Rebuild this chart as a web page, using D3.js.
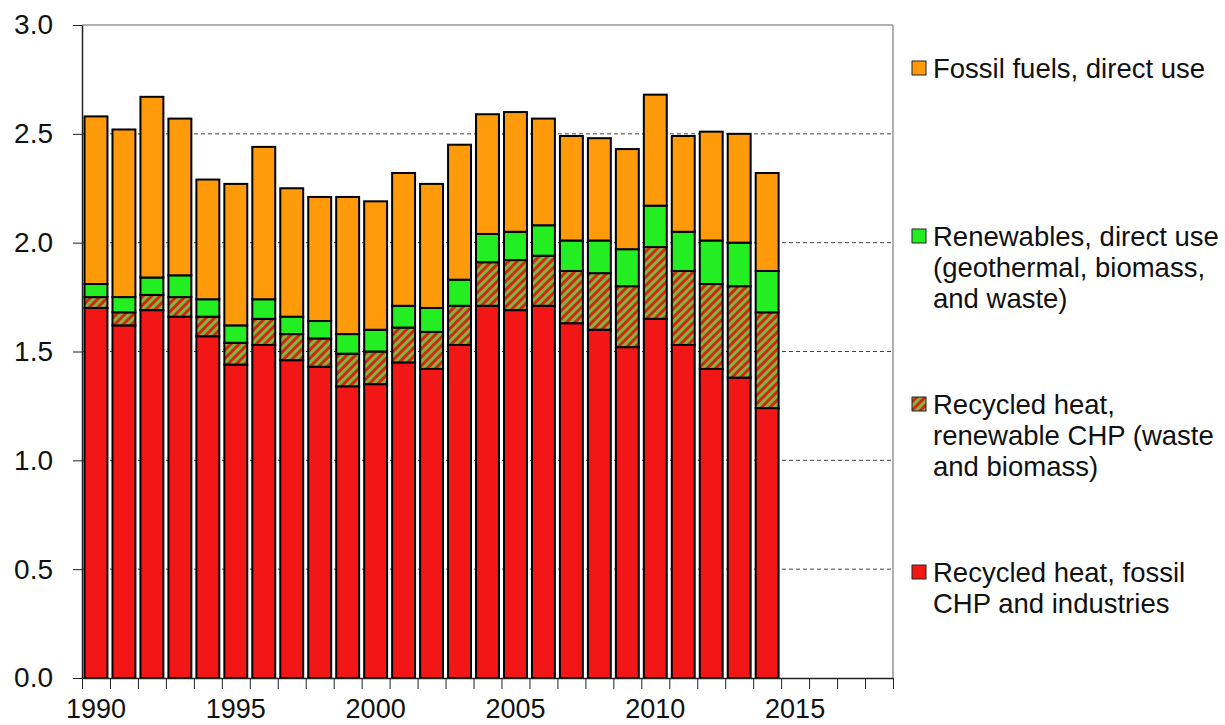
<!DOCTYPE html>
<html>
<head>
<meta charset="utf-8">
<script src="https://cdnjs.cloudflare.com/ajax/libs/d3/7.8.5/d3.min.js"></script>
<style>
    body { margin: 0; background: #fff; }
    text { font-family: "Liberation Sans", Arial, sans-serif; fill: #111; }
    .axis path, .axis line { stroke: #222; }
</style>
</head>
<body>
<svg id="chart" width="1225" height="725"></svg>
<script>
// years with data, and the empty years the axis still runs through
var years = [1990, 1991, 1992, 1993, 1994, 1995, 1996, 1997, 1998, 1999,
    2000, 2001, 2002, 2003, 2004, 2005, 2006, 2007, 2008, 2009,
    2010, 2011, 2012, 2013, 2014];
var axisYears = years.concat([2015, 2016, 2017, 2018]);
var yTicks = [0, 0.5, 1.0, 1.5, 2.0, 2.5, 3.0];

// stacked from the bottom up
var fossilCHP = [1.70, 1.62, 1.69, 1.66, 1.57, 1.44, 1.53, 1.46, 1.43, 1.34,
    1.35, 1.45, 1.42, 1.53, 1.71, 1.69, 1.71, 1.63, 1.60, 1.52,
    1.65, 1.53, 1.42, 1.38, 1.24];
var renewableCHP = [0.05, 0.06, 0.07, 0.09, 0.09, 0.10, 0.12, 0.12, 0.13, 0.15,
    0.15, 0.16, 0.17, 0.18, 0.20, 0.23, 0.23, 0.24, 0.26, 0.28,
    0.33, 0.34, 0.39, 0.42, 0.44];
var renewablesDirect = [0.06, 0.07, 0.08, 0.10, 0.08, 0.08, 0.09, 0.08, 0.08, 0.09,
    0.10, 0.10, 0.11, 0.12, 0.13, 0.13, 0.14, 0.14, 0.15, 0.17,
    0.19, 0.18, 0.20, 0.20, 0.19];
var fossilDirect = [0.77, 0.77, 0.83, 0.72, 0.55, 0.65, 0.70, 0.59, 0.57, 0.63,
    0.59, 0.61, 0.57, 0.62, 0.55, 0.55, 0.49, 0.48, 0.47, 0.46,
    0.51, 0.44, 0.50, 0.50, 0.45];

var seriesKeys = ["fossilCHP", "renewableCHP", "renewablesDirect", "fossilDirect"];
var seriesFill = {
    fossilCHP: "#f21616",
    renewableCHP: "url(#hatch)",
    renewablesDirect: "#22ee22",
    fossilDirect: "#ff9a0a"
};
// legend reads top to bottom
var legendItems = [
    { key: "fossilDirect", lines: ["Fossil fuels, direct use"] },
    { key: "renewablesDirect", lines: ["Renewables, direct use", "(geothermal, biomass,", "and waste)"] },
    { key: "renewableCHP", lines: ["Recycled heat,", "renewable CHP (waste", "and biomass)"] },
    { key: "fossilCHP", lines: ["Recycled heat, fossil", "CHP and industries"] }
];

var rows = years.map(function(yr, i) {
    return {
        year: yr,
        fossilCHP: fossilCHP[i],
        renewableCHP: renewableCHP[i],
        renewablesDirect: renewablesDirect[i],
        fossilDirect: fossilDirect[i]
    };
});

var plot = { left: 82, top: 25, right: 893, bottom: 678 };

var svg = d3.select("#chart");

// hatch pattern for renewable CHP
var defs = svg.append("defs");
var pat = defs.append("pattern")
    .attr("id", "hatch")
    .attr("patternUnits", "userSpaceOnUse")
    .attr("width", 6)
    .attr("height", 6)
    .attr("patternTransform", "rotate(45)");
pat.append("rect").attr("width", 6).attr("height", 6).attr("fill", "#cc2a18");
pat.append("rect").attr("width", 3).attr("height", 6).attr("fill", "#84b43a");

var x = d3.scaleBand()
    .domain(axisYears)
    .range([plot.left, plot.right])
    .paddingInner(0.18)
    .paddingOuter(0.09);

var xEdge = d3.scaleLinear()
    .domain([0, axisYears.length])
    .range([plot.left, plot.right]);

var y = d3.scaleLinear()
    .domain([0, 3])
    .range([plot.bottom, plot.top]);

// dashed gridlines
svg.append("g")
    .selectAll("line")
    .data(yTicks.filter(function(d) { return d > 0 && d < 3; }))
    .enter().append("line")
    .attr("x1", plot.left)
    .attr("x2", plot.right)
    .attr("y1", function(d) { return y(d); })
    .attr("y2", function(d) { return y(d); })
    .attr("stroke", "#444")
    .attr("stroke-width", 1)
    .attr("stroke-dasharray", "4,3");

// top and right frame
svg.append("line")
    .attr("x1", plot.left).attr("x2", plot.right)
    .attr("y1", plot.top).attr("y2", plot.top)
    .attr("stroke", "#999").attr("stroke-width", 1.5);
svg.append("line")
    .attr("x1", plot.right).attr("x2", plot.right)
    .attr("y1", plot.top).attr("y2", plot.bottom)
    .attr("stroke", "#999").attr("stroke-width", 1.5);

var stacked = d3.stack().keys(seriesKeys)(rows);

var layer = svg.append("g").selectAll(".layer")
    .data(stacked)
    .enter().append("g")
    .attr("class", "layer")
    .attr("fill", function(d) { return seriesFill[d.key]; });

layer.selectAll("rect")
    .data(function(d) { return d; })
    .enter().append("rect")
    .attr("x", function(d) { return x(d.data.year); })
    .attr("width", x.bandwidth())
    .attr("y", function(d) { return y(d[1]); })
    .attr("height", function(d) { return y(d[0]) - y(d[1]); })
    .attr("stroke", "#000")
    .attr("stroke-width", 2);

// y axis
var yAxis = d3.axisLeft(y)
    .tickValues(yTicks)
    .tickFormat(d3.format(".1f"))
    .tickSize(9)
    .tickSizeOuter(0)
    .tickPadding(20);

svg.append("g")
    .attr("class", "axis")
    .attr("transform", "translate(" + plot.left + ",0)")
    .call(yAxis)
    .call(function(g) {
        g.select(".domain").attr("stroke-width", 1.5);
        g.selectAll("text").style("font-size", "28px");
    });

// x axis: tick marks between years, labels every 5 years
var xEdgeAxis = d3.axisBottom(xEdge)
    .tickValues(d3.range(0, axisYears.length + 1))
    .tickFormat("")
    .tickSize(11)
    .tickSizeOuter(0);

svg.append("g")
    .attr("class", "axis")
    .attr("transform", "translate(0," + plot.bottom + ")")
    .call(xEdgeAxis)
    .call(function(g) { g.select(".domain").attr("stroke-width", 1.5); });

var xAxis = d3.axisBottom(x)
    .tickValues(axisYears.filter(function(d) { return d % 5 === 0; }))
    .tickSize(0)
    .tickPadding(21);

svg.append("g")
    .attr("class", "axis")
    .attr("transform", "translate(0," + plot.bottom + ")")
    .call(xAxis)
    .call(function(g) {
        g.select(".domain").remove();
        g.selectAll("text").style("font-size", "27px");
    });

// legend
var legend = svg.append("g")
    .selectAll("g")
    .data(legendItems)
    .enter().append("g")
    .attr("transform", function(d, i) { return "translate(912," + (68 + i * 168) + ")"; });

legend.append("rect")
    .attr("x", 0)
    .attr("y", -7)
    .attr("width", 14)
    .attr("height", 14)
    .attr("fill", function(d) { return seriesFill[d.key]; })
    .attr("stroke", "#222")
    .attr("stroke-width", 1);

legend.append("text")
    .attr("x", 21)
    .attr("y", 0)
    .style("font-size", "27.5px")
    .selectAll("tspan")
    .data(function(d) { return d.lines; })
    .enter().append("tspan")
    .attr("x", 21)
    .attr("y", function(d, i) { return i * 31; })
    .attr("dy", "0.35em")
    .text(function(d) { return d; });
</script>
</body>
</html>
